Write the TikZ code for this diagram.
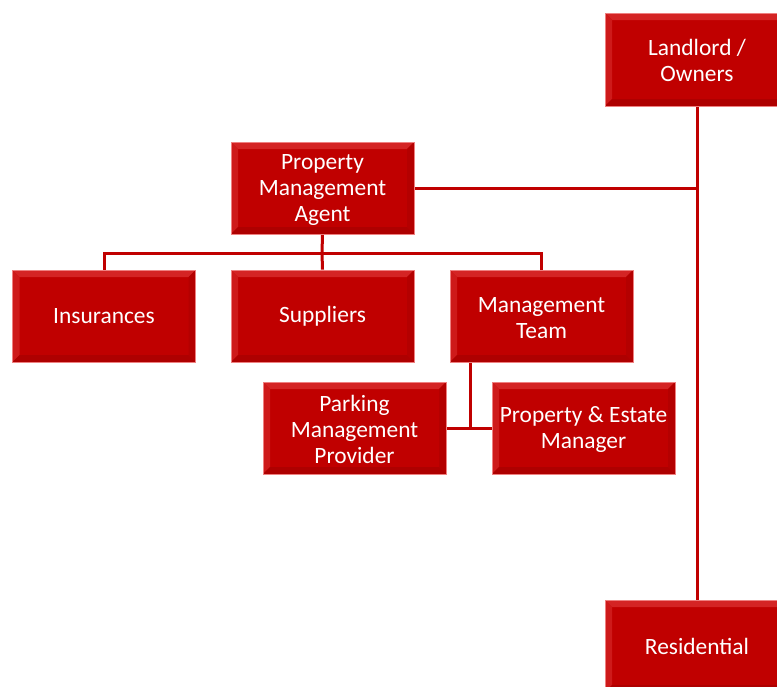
\documentclass[tikz,border=0pt]{standalone}
\usepackage{fontspec}
\setmainfont{Carlito}
\usetikzlibrary{calc,backgrounds}
\definecolor{boxred}{HTML}{C00000}
\definecolor{bevtop}{HTML}{D42424}
\definecolor{bevleft}{HTML}{CE1A1A}
\definecolor{bevright}{HTML}{B40000}
\definecolor{bevbot}{HTML}{AE0000}
\definecolor{edgepink}{HTML}{EE8080}
\definecolor{linered}{HTML}{C00000}
\tikzset{
  bx/.style={fill=boxred, draw=edgepink, line width=0.8pt,
    minimum width=183pt, minimum height=92pt, inner sep=0pt,
    text=white, align=center, font=\fontsize{23.4}{26}\selectfont,
    path picture={
      \coordinate (bnw) at (path picture bounding box.north west);
      \coordinate (bne) at (path picture bounding box.north east);
      \coordinate (bsw) at (path picture bounding box.south west);
      \coordinate (bse) at (path picture bounding box.south east);
      \fill[bevtop] (bnw) -- (bne) -- ($(bne)+(-7pt,-7pt)$) -- ($(bnw)+(7pt,-7pt)$) -- cycle;
      \fill[bevleft] (bnw) -- ($(bnw)+(7pt,-7pt)$) -- ($(bsw)+(7pt,7pt)$) -- (bsw) -- cycle;
      \fill[bevright] (bne) -- ($(bne)+(-7pt,-7pt)$) -- ($(bse)+(-7pt,7pt)$) -- (bse) -- cycle;
      \fill[bevbot] (bsw) -- ($(bsw)+(7pt,7pt)$) -- ($(bse)+(-7pt,7pt)$) -- (bse) -- cycle;
    }},
  conn/.style={draw=linered, line width=3pt}
}
\begin{document}
\begin{tikzpicture}[x=1pt,y=-1pt]
\useasboundingbox (0,0) rectangle (777,686);
\clip (0,0) rectangle (777,686);
\coordinate (jL) at (697,188);
\coordinate (bus) at (322,253);
\coordinate (m1) at (470,362);
\node[bx, minimum width=184pt, minimum height=93pt] (LL) at (697,59.5) {\strut Landlord /\\Owners};
\node[bx, minimum width=184pt] (RES) at (697,646) {Residential};
\node[bx] (PMA) at (322.5,188) {\strut Property\\Management\\Agent};
\node[bx] (INS) at (104,316) {Insurances};
\node[bx] (SUP) at (322.5,316) {Suppliers};
\node[bx] (MT) at (541.5,316) {\strut Management\\Team};
\node[bx] (PMP) at (354.5,428) {\strut Parking\\Management\\Provider};
\node[bx] (PEM) at (583.5,428) {\strut Property \& Estate\\Manager};
\begin{scope}[on background layer]
\fill[white] (0,0) rectangle (777,686);
\draw[conn] (LL.south) -- (RES.north);
\draw[conn] (PMA.east) -- (jL);
\draw[conn] (PMA.south) -- (bus);
\draw[conn] (INS.north) |- (bus) -| (MT.north);
\draw[conn] (bus) -- (SUP.north);
\draw[conn] (m1) -- (m1 |- PMP.east);
\draw[conn] (PMP.east) -- (PEM.west);
\end{scope}
\end{tikzpicture}
\end{document}
